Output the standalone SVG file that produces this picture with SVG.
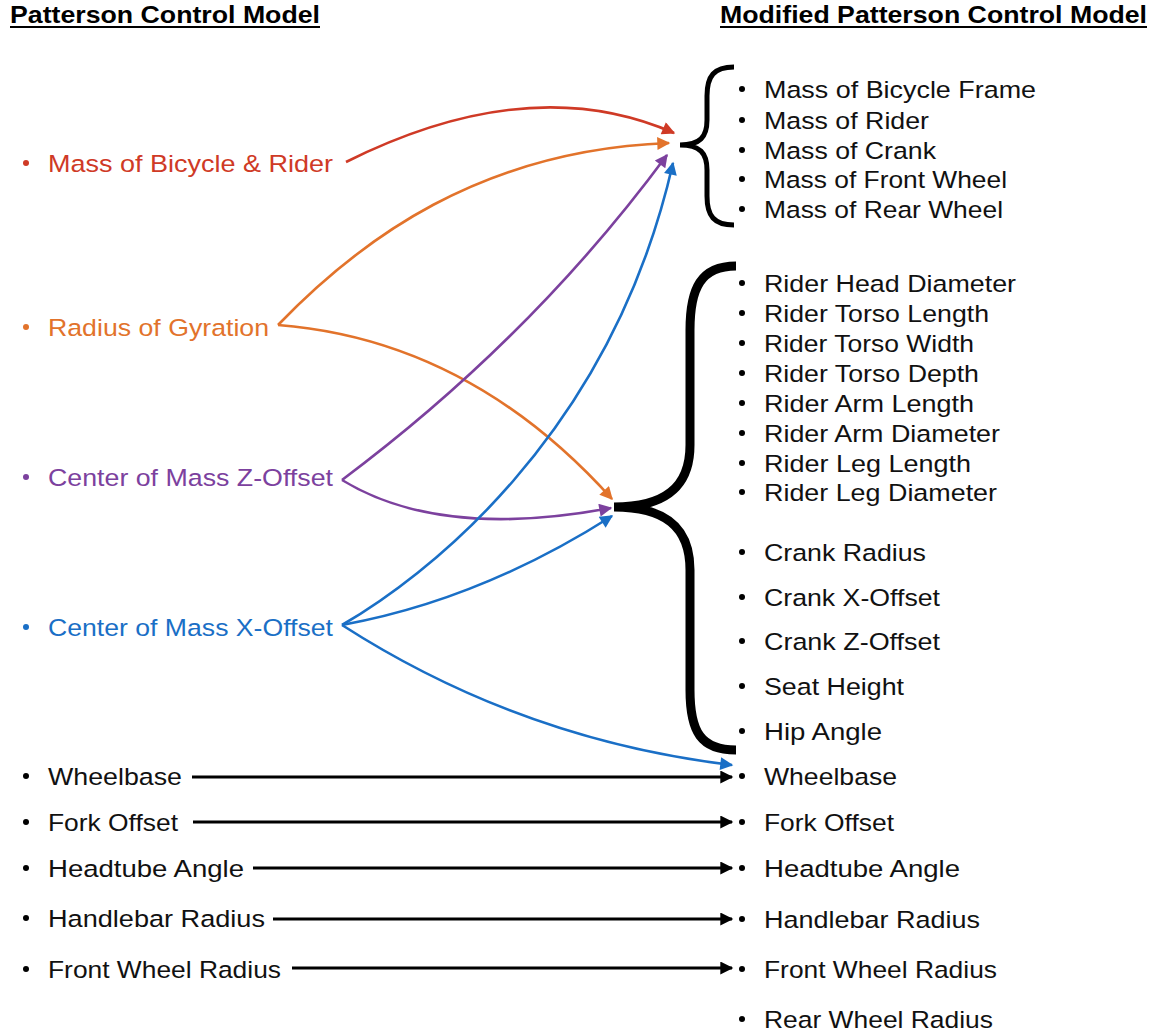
<svg xmlns="http://www.w3.org/2000/svg" width="1157" height="1033" viewBox="0 0 1157 1033">
<style>
  text { font-family: "Liberation Sans", Arial, sans-serif; font-size: 24.5px; fill: #111; }
  .hdr { font-weight: bold; font-size: 24px; fill: #000; }
  .red { fill: #cf3a26; } .ora { fill: #e2732b; } .pur { fill: #7c419e; } .blu { fill: #1a6fc6; }
  .c { fill: none; stroke-width: 2.6; }
  .k { fill: none; stroke: #000; stroke-width: 3; }
  .brace { fill: none; stroke: #000; stroke-linecap: butt; }
</style>
<defs>
  <marker id="aR" viewBox="0 0 10 10" refX="9" refY="5" markerWidth="16" markerHeight="13" markerUnits="userSpaceOnUse" orient="auto"><path d="M0,0 L10,5 L0,10 Z" fill="#cf3a26"/></marker>
  <marker id="aO" viewBox="0 0 10 10" refX="9" refY="5" markerWidth="16" markerHeight="13" markerUnits="userSpaceOnUse" orient="auto"><path d="M0,0 L10,5 L0,10 Z" fill="#e2732b"/></marker>
  <marker id="aP" viewBox="0 0 10 10" refX="9" refY="5" markerWidth="16" markerHeight="13" markerUnits="userSpaceOnUse" orient="auto"><path d="M0,0 L10,5 L0,10 Z" fill="#7c419e"/></marker>
  <marker id="aB" viewBox="0 0 10 10" refX="9" refY="5" markerWidth="16" markerHeight="13" markerUnits="userSpaceOnUse" orient="auto"><path d="M0,0 L10,5 L0,10 Z" fill="#1a6fc6"/></marker>
  <marker id="aK" viewBox="0 0 10 10" refX="9" refY="5" markerWidth="16" markerHeight="13" markerUnits="userSpaceOnUse" orient="auto"><path d="M0,0 L10,5 L0,10 Z" fill="#000"/></marker>
</defs>
<rect width="1157" height="1033" fill="#fff"/>

<g id="headers">
  <text class="hdr" x="10" y="23" textLength="310" lengthAdjust="spacingAndGlyphs">Patterson Control Model</text>
  <line x1="10" y1="27" x2="320" y2="27" stroke="#000" stroke-width="2"/>
  <text class="hdr" x="720" y="23" textLength="427" lengthAdjust="spacingAndGlyphs">Modified Patterson Control Model</text>
  <line x1="720" y1="27" x2="1147" y2="27" stroke="#000" stroke-width="2"/>
</g>

<g id="left-mass"><circle class="red" cx="26" cy="163" r="3"/><text class="red" x="48" y="172" textLength="285" lengthAdjust="spacingAndGlyphs">Mass of Bicycle &amp; Rider</text></g>
<g id="left-radius"><circle class="ora" cx="26" cy="327" r="3"/><text class="ora" x="48" y="336" textLength="221" lengthAdjust="spacingAndGlyphs">Radius of Gyration</text></g>
<g id="left-zoffset"><circle class="pur" cx="26" cy="477" r="3"/><text class="pur" x="48" y="486" textLength="285" lengthAdjust="spacingAndGlyphs">Center of Mass Z-Offset</text></g>
<g id="left-xoffset"><circle class="blu" cx="26" cy="627" r="3"/><text class="blu" x="48" y="636" textLength="285" lengthAdjust="spacingAndGlyphs">Center of Mass X-Offset</text></g>
<g id="left-wheelbase"><circle cx="26" cy="776" r="3"/><text x="48" y="785" textLength="134" lengthAdjust="spacingAndGlyphs">Wheelbase</text></g>
<g id="left-fork"><circle cx="26" cy="822" r="3"/><text x="48" y="831" textLength="130" lengthAdjust="spacingAndGlyphs">Fork Offset</text></g>
<g id="left-headtube"><circle cx="26" cy="868" r="3"/><text x="48" y="877" textLength="196" lengthAdjust="spacingAndGlyphs">Headtube Angle</text></g>
<g id="left-handlebar"><circle cx="26" cy="918" r="3"/><text x="48" y="927" textLength="217" lengthAdjust="spacingAndGlyphs">Handlebar Radius</text></g>
<g id="left-frontwheel"><circle cx="26" cy="969" r="3"/><text x="48" y="978" textLength="233" lengthAdjust="spacingAndGlyphs">Front Wheel Radius</text></g>

<g id="brace-mass">
  <path class="brace" stroke-width="5" d="M734,67 C714,67 707,76 707,96 L707,120 C707,137 700,145 680,145 C700,145 707,153 707,170 L707,196 C707,216 714,225 734,225"/>
</g>
<g id="brace-rider">
  <path class="brace" stroke-width="9" d="M736,266 C701,266 690,288 690,330 L690,445 C690,488 664,507 614,507 C664,507 690,526 690,570 L690,690 C690,732 701,750 736,750"/>
</g>

<g id="right-mass-group">
  <circle cx="742" cy="89" r="3"/><text x="764" y="98" textLength="272" lengthAdjust="spacingAndGlyphs">Mass of Bicycle Frame</text>
  <circle cx="742" cy="120" r="3"/><text x="764" y="129" textLength="165" lengthAdjust="spacingAndGlyphs">Mass of Rider</text>
  <circle cx="742" cy="150" r="3"/><text x="764" y="159" textLength="172" lengthAdjust="spacingAndGlyphs">Mass of Crank</text>
  <circle cx="742" cy="179" r="3"/><text x="764" y="188" textLength="243" lengthAdjust="spacingAndGlyphs">Mass of Front Wheel</text>
  <circle cx="742" cy="209" r="3"/><text x="764" y="218" textLength="239" lengthAdjust="spacingAndGlyphs">Mass of Rear Wheel</text>
</g>
<g id="right-rider-group">
  <circle cx="742" cy="283" r="3"/><text x="764" y="292" textLength="252" lengthAdjust="spacingAndGlyphs">Rider Head Diameter</text>
  <circle cx="742" cy="313" r="3"/><text x="764" y="322" textLength="225" lengthAdjust="spacingAndGlyphs">Rider Torso Length</text>
  <circle cx="742" cy="343" r="3"/><text x="764" y="352" textLength="210" lengthAdjust="spacingAndGlyphs">Rider Torso Width</text>
  <circle cx="742" cy="373" r="3"/><text x="764" y="382" textLength="215" lengthAdjust="spacingAndGlyphs">Rider Torso Depth</text>
  <circle cx="742" cy="403" r="3"/><text x="764" y="412" textLength="210" lengthAdjust="spacingAndGlyphs">Rider Arm Length</text>
  <circle cx="742" cy="433" r="3"/><text x="764" y="442" textLength="236" lengthAdjust="spacingAndGlyphs">Rider Arm Diameter</text>
  <circle cx="742" cy="463" r="3"/><text x="764" y="472" textLength="207" lengthAdjust="spacingAndGlyphs">Rider Leg Length</text>
  <circle cx="742" cy="492" r="3"/><text x="764" y="501" textLength="233" lengthAdjust="spacingAndGlyphs">Rider Leg Diameter</text>
  <circle cx="742" cy="552" r="3"/><text x="764" y="561" textLength="162" lengthAdjust="spacingAndGlyphs">Crank Radius</text>
  <circle cx="742" cy="597" r="3"/><text x="764" y="606" textLength="176" lengthAdjust="spacingAndGlyphs">Crank X-Offset</text>
  <circle cx="742" cy="641" r="3"/><text x="764" y="650" textLength="176" lengthAdjust="spacingAndGlyphs">Crank Z-Offset</text>
  <circle cx="742" cy="686" r="3"/><text x="764" y="695" textLength="140" lengthAdjust="spacingAndGlyphs">Seat Height</text>
  <circle cx="742" cy="731" r="3"/><text x="764" y="740" textLength="118" lengthAdjust="spacingAndGlyphs">Hip Angle</text>
</g>
<g id="right-wheelbase"><circle cx="742" cy="776" r="3"/><text x="764" y="785" textLength="133" lengthAdjust="spacingAndGlyphs">Wheelbase</text></g>
<g id="right-fork"><circle cx="742" cy="822" r="3"/><text x="764" y="831" textLength="130" lengthAdjust="spacingAndGlyphs">Fork Offset</text></g>
<g id="right-headtube"><circle cx="742" cy="868" r="3"/><text x="764" y="877" textLength="196" lengthAdjust="spacingAndGlyphs">Headtube Angle</text></g>
<g id="right-handlebar"><circle cx="742" cy="919" r="3"/><text x="764" y="928" textLength="216" lengthAdjust="spacingAndGlyphs">Handlebar Radius</text></g>
<g id="right-frontwheel"><circle cx="742" cy="969" r="3"/><text x="764" y="978" textLength="233" lengthAdjust="spacingAndGlyphs">Front Wheel Radius</text></g>
<g id="right-rearwheel"><circle cx="742" cy="1019" r="3"/><text x="764" y="1028" textLength="229" lengthAdjust="spacingAndGlyphs">Rear Wheel Radius</text></g>

<g id="connectors">
  <path class="c" stroke="#cf3a26" marker-end="url(#aR)" d="M346,162 Q530,70 674,133"/>
  <path class="c" stroke="#e2732b" marker-end="url(#aO)" d="M278,325 C360,240 480,150 669,143"/>
  <path class="c" stroke="#e2732b" marker-end="url(#aO)" d="M278,325 Q469,340 612,499"/>
  <path class="c" stroke="#7c419e" marker-end="url(#aP)" d="M342,480 Q532,338 667,155"/>
  <path class="c" stroke="#7c419e" marker-end="url(#aP)" d="M342,480 Q440,540 611,508"/>
  <path class="c" stroke="#1a6fc6" marker-end="url(#aB)" d="M342,625 C420,580 610,440 673,163"/>
  <path class="c" stroke="#1a6fc6" marker-end="url(#aB)" d="M342,625 Q480,600 612,516"/>
  <path class="c" stroke="#1a6fc6" marker-end="url(#aB)" d="M342,625 Q521,740 732,765"/>
  <line class="k" marker-end="url(#aK)" x1="192" y1="777" x2="732" y2="777"/>
  <line class="k" marker-end="url(#aK)" x1="193" y1="822" x2="732" y2="822"/>
  <line class="k" marker-end="url(#aK)" x1="253" y1="868" x2="732" y2="868"/>
  <line class="k" marker-end="url(#aK)" x1="273" y1="919" x2="732" y2="919"/>
  <line class="k" marker-end="url(#aK)" x1="292" y1="968" x2="732" y2="968"/>
</g>
</svg>
